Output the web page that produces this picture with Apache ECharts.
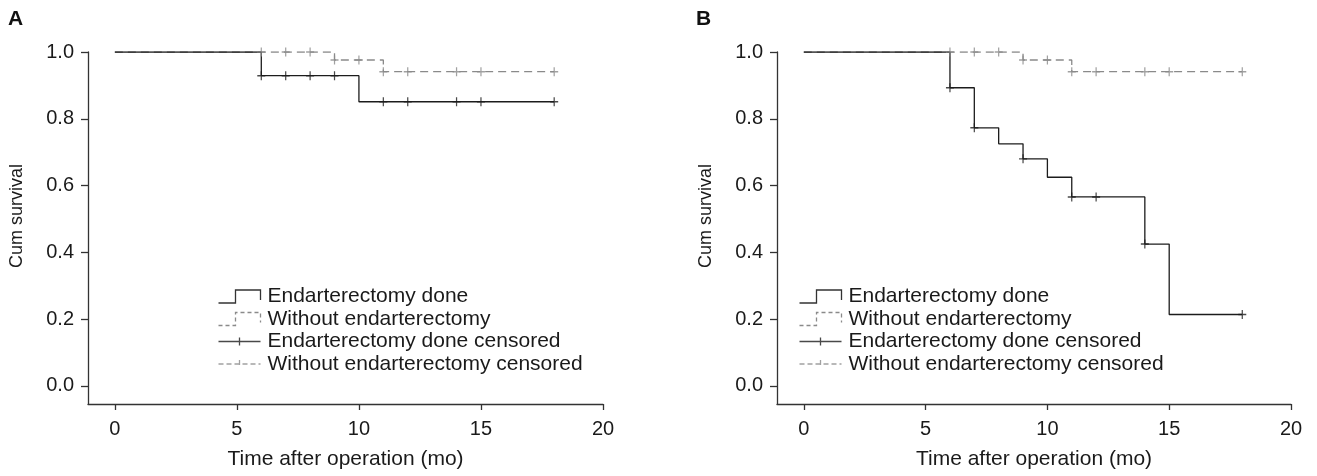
<!DOCTYPE html>
<html>
<head>
<meta charset="utf-8">
<script src="https://cdn.jsdelivr.net/npm/echarts@6/dist/echarts.min.js"></script>
<style>
html,body{margin:0;padding:0;background:#fff;}
#chart{width:1317px;height:476px;}
</style>
</head>
<body>
<div id="chart"></div>
<script>
// ---- Data ----
const xTicks = [0, 5, 10, 15, 20];
const yTicks = [0, 0.2, 0.4, 0.6, 0.8, 1.0];
const seriesNames = ['Endarterectomy done', 'Without endarterectomy', 'Endarterectomy done censored', 'Without endarterectomy censored'];

// Panel A
const tA_done = [0, 6, 10, 18];
const sA_done = [1, 0.929, 0.851, 0.851];
const tA_doneCens = [6, 7, 8, 9, 11, 12, 14, 15, 18];
const sA_doneCens = [0.929, 0.929, 0.929, 0.929, 0.851, 0.851, 0.851, 0.851, 0.851];
const tA_wo = [0, 9, 11, 18];
const sA_wo = [1, 0.976, 0.941, 0.941];
const tA_woCens = [6, 7, 8, 9, 10, 11, 12, 14, 15, 18];
const sA_woCens = [1, 1, 1, 0.976, 0.976, 0.941, 0.941, 0.941, 0.941, 0.941];

// Panel B
const tB_done = [0, 6, 7, 8, 9, 10, 11, 14, 15, 18];
const sB_done = [1, 0.893, 0.773, 0.725, 0.680, 0.625, 0.566, 0.425, 0.214, 0.214];
const tB_doneCens = [6, 7, 9, 11, 12, 14, 18];
const sB_doneCens = [0.893, 0.773, 0.680, 0.566, 0.566, 0.425, 0.214];
const tB_wo = [0, 9, 11, 18];
const sB_wo = [1, 0.976, 0.941, 0.941];
const tB_woCens = [6, 7, 8, 9, 10, 11, 12, 14, 15, 18];
const sB_woCens = [1, 1, 1, 0.976, 0.976, 0.941, 0.941, 0.941, 0.941, 0.941];

// ---- Styling ----
const FONT = '"Liberation Sans", Arial, Helvetica, sans-serif';
const BLACK = '#1c1c1c';
const GRAY = '#8a8a8a';
const AXIS = '#333333';
const zip = (a, b) => a.map((v, i) => [v, b[i]]);
const plus = 'path://M4,0L4,9M0,4.5L8,4.5';

function xAxis(gi) {
  return {
    type: 'value', gridIndex: gi, min: -1.1, max: 20,
    name: 'Time after operation (mo)', nameLocation: 'middle', nameGap: 45,
    nameTextStyle: {fontFamily: FONT, fontSize: 21, color: '#1a1a1a'},
    axisLine: {show: true, onZero: false, lineStyle: {color: AXIS, width: 1.3}},
    axisTick: {show: true, length: 6, customValues: xTicks, lineStyle: {color: AXIS, width: 1.3}},
    axisLabel: {show: true, customValues: xTicks, margin: 15, fontFamily: FONT, fontSize: 20, color: '#1a1a1a'},
    splitLine: {show: false}
  };
}
function yAxis(gi) {
  return {
    type: 'value', gridIndex: gi, min: -0.054, max: 1,
    name: 'Cum survival', nameLocation: 'middle', nameGap: 62, nameRotate: 90,
    nameTextStyle: {fontFamily: FONT, fontSize: 18, color: '#1a1a1a', padding: [0, 0, 0, 24]},
    axisLine: {show: true, onZero: false, lineStyle: {color: AXIS, width: 1.3}},
    axisTick: {show: true, length: 7, customValues: yTicks, lineStyle: {color: AXIS, width: 1.3}},
    axisLabel: {show: true, customValues: yTicks, margin: 14, fontFamily: FONT, fontSize: 20, color: '#1a1a1a',
      formatter: v => v.toFixed(1)},
    splitLine: {show: false}
  };
}
function stepLine(name, gi, t, s, color, dashed) {
  return {
    name, type: 'line', xAxisIndex: gi, yAxisIndex: gi, step: 'end', symbol: 'none',
    data: zip(t, s), silent: true, z: dashed ? 2 : 3,
    lineStyle: {color, width: 1.3, type: dashed ? [8, 5] : 'solid'},
    itemStyle: {color}
  };
}
function censor(name, gi, t, s, color) {
  return {
    name, type: 'scatter', xAxisIndex: gi, yAxisIndex: gi, symbol: plus, symbolSize: [8, 9],
    data: zip(t, s), silent: true, z: 4,
    itemStyle: {color: 'none', borderColor: color, borderWidth: 1.3}
  };
}
const legendIcons = [
  {icon: 'path://M0,13L17,13L17,0L42,0L42,10', color: '#333333', dash: 'solid'},
  {icon: 'path://M0,13L17,13L17,0L42,0L42,10', color: '#8a8a8a', dash: [4, 3]},
  {icon: 'path://M0,4L42,4M21,0L21,8', color: '#1c1c1c', dash: 'solid'},
  {icon: 'path://M0,4L42,4M21,0L21,8', color: '#8a8a8a', dash: [5, 3]}
];
function legend(left) {
  return {
    orient: 'vertical', left, top: 281, itemWidth: 42, itemHeight: 14, itemGap: 1.5,
    selectedMode: false, symbolKeepAspect: true,
    textStyle: {fontFamily: FONT, fontSize: 21, color: '#1a1a1a', lineHeight: 21, padding: [0, 0, 0, 2]},
    data: seriesNames.map((n, i) => ({
      name: n, icon: legendIcons[i].icon,
      itemStyle: {color: 'none', borderColor: legendIcons[i].color, borderWidth: 1.3, borderType: legendIcons[i].dash}
    }))
  };
}

const chart = echarts.init(document.getElementById('chart'), null, {renderer: 'canvas'});
chart.setOption({
  animation: false,
  backgroundColor: '#ffffff',
  title: [
    {text: 'A', left: 3, top: 4, textStyle: {fontFamily: FONT, fontSize: 21, fontWeight: 'bold', color: '#111'}},
    {text: 'B', left: 691, top: 4, textStyle: {fontFamily: FONT, fontSize: 21, fontWeight: 'bold', color: '#111'}}
  ],
  grid: [
    {left: 88, right: 714, top: 52, bottom: 72, containLabel: false},
    {left: 777, right: 26, top: 52, bottom: 72, containLabel: false}
  ],
  xAxis: [xAxis(0), xAxis(1)],
  yAxis: [yAxis(0), yAxis(1)],
  legend: [legend(211), legend(792)],
  series: [
    stepLine(seriesNames[1], 0, tA_wo, sA_wo, GRAY, true),
    stepLine(seriesNames[0], 0, tA_done, sA_done, BLACK, false),
    censor(seriesNames[3], 0, tA_woCens, sA_woCens, GRAY),
    censor(seriesNames[2], 0, tA_doneCens, sA_doneCens, BLACK),
    stepLine(seriesNames[1], 1, tB_wo, sB_wo, GRAY, true),
    stepLine(seriesNames[0], 1, tB_done, sB_done, BLACK, false),
    censor(seriesNames[3], 1, tB_woCens, sB_woCens, GRAY),
    censor(seriesNames[2], 1, tB_doneCens, sB_doneCens, BLACK)
  ]
});
</script>
</body>
</html>
